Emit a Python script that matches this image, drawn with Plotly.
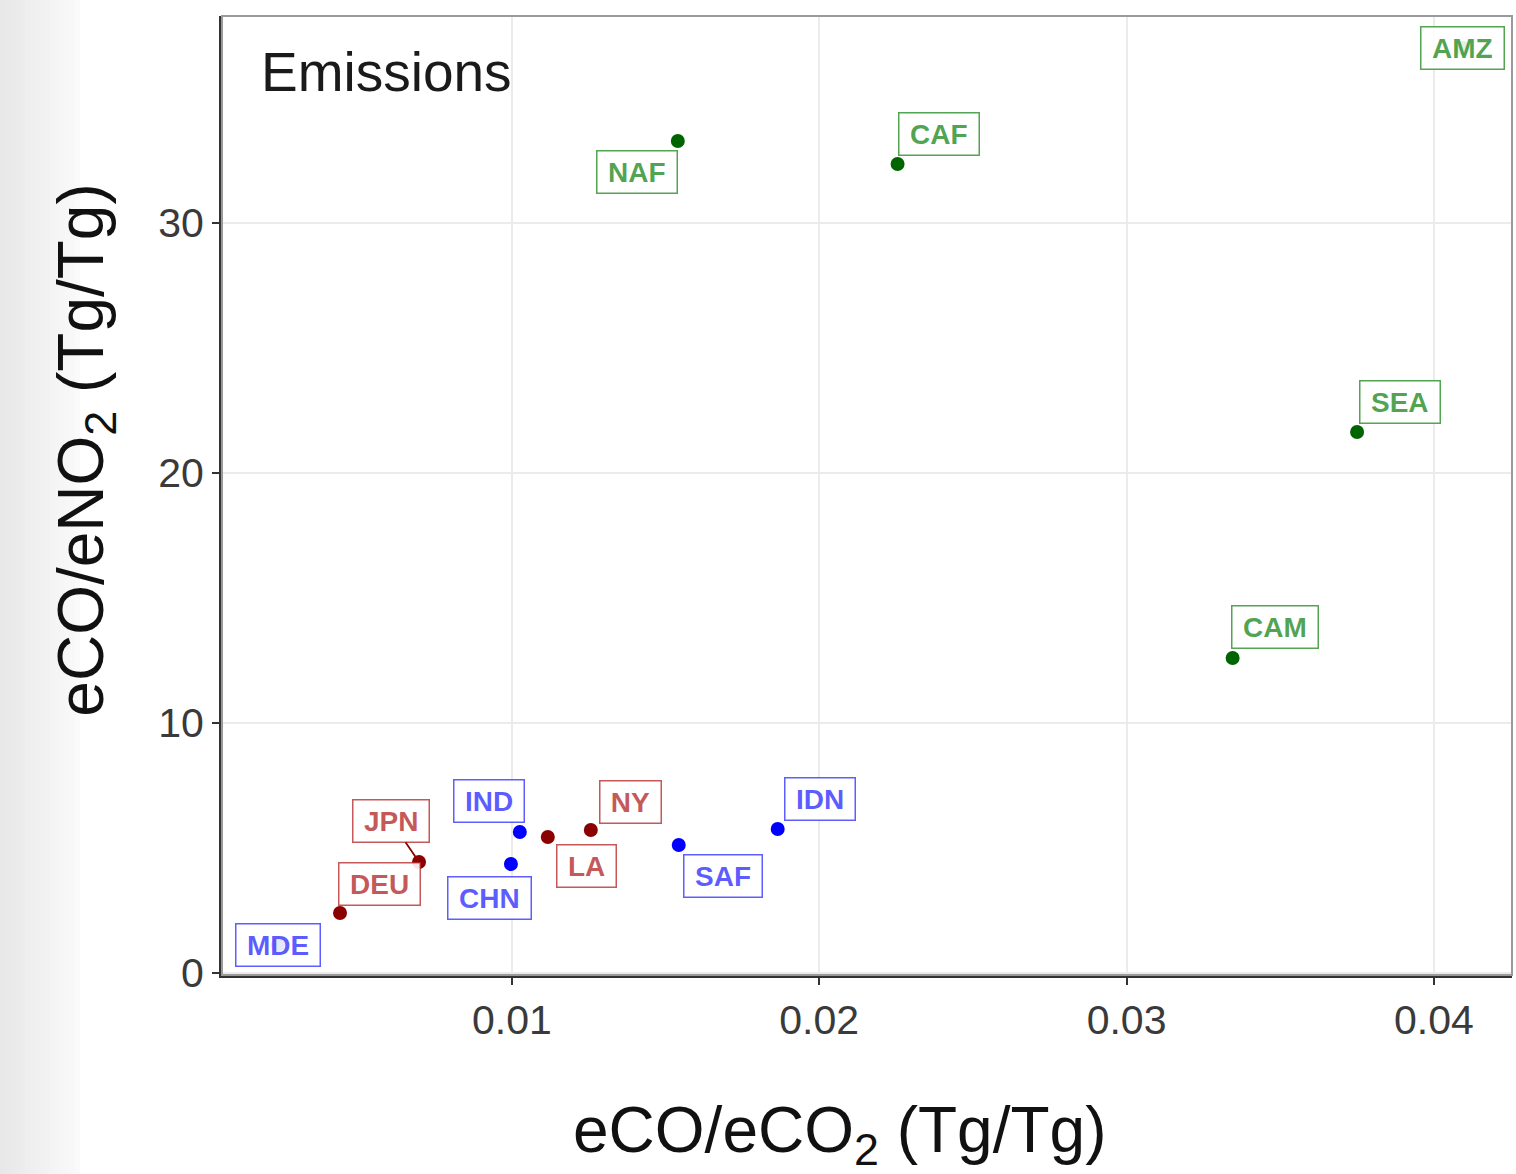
import plotly.graph_objects as go

regions = ["NAF", "CAF", "AMZ", "SEA", "CAM", "IDN", "SAF", "NY", "LA", "IND", "CHN", "JPN", "DEU", "MDE"]
eco_eco2 = [0.0154, 0.02255, 0.04094, 0.0375, 0.03345, 0.01865, 0.01543, 0.01257, 0.01117, 0.01026, 0.00997, 0.00698, 0.00441, 0.00239]
eco_eno2 = [33.28, 32.36, 37.0, 21.64, 12.6, 5.76, 5.12, 5.72, 5.44, 5.64, 4.36, 4.44, 2.4, 1.12]
group = ["fire", "fire", "fire", "fire", "fire", "mixed", "mixed", "urban", "urban", "mixed", "mixed", "urban", "urban", "mixed"]

x_ticks = [0.01, 0.02, 0.03, 0.04]
x_ticklabels = ["0.01", "0.02", "0.03", "0.04"]
y_ticks = [0, 10, 20, 30]
y_ticklabels = ["0", "10", "20", "30"]

point_color = {"fire": "#006400", "urban": "#8B0000", "mixed": "#0000FF"}
label_color = {"fire": "rgba(34,139,34,0.78)", "urban": "rgba(178,34,34,0.75)", "mixed": "rgba(40,40,255,0.75)"}

LABEL_SIZE = 28
char_w = {"A": .722, "C": .722, "D": .722, "E": .667, "F": .611, "I": .278, "J": .556, "L": .611,
          "M": .833, "N": .722, "P": .667, "S": .667, "Y": .667, "Z": .611, "H": .722, "U": .722}

# label placement relative to the point (anchor, pixel shift)
placement = {
    "NAF": ("right", "top", 0, -9),
    "CAF": ("left", "bottom", 0, 8),
    "AMZ": ("center", "middle", 0, 0),
    "SEA": ("left", "bottom", 2, 8),
    "CAM": ("left", "bottom", -2, 9),
    "IDN": ("left", "bottom", 6, 8),
    "SAF": ("left", "top", 4, -9),
    "NY": ("left", "bottom", 8, 6),
    "LA": ("left", "top", 8, -7),
    "IND": ("right", "bottom", 5, 9),
    "CHN": ("center", "top", -21, -12),
    "DEU": ("left", "bottom", -2, 7),
    "MDE": ("center", "middle", 0, 0),
}

fig = go.Figure()
for g in ["fire", "urban", "mixed"]:
    xs = [x for x, gg in zip(eco_eco2, group) if gg == g]
    ys = [y for y, gg in zip(eco_eno2, group) if gg == g]
    fig.add_trace(go.Scatter(x=xs, y=ys, mode="markers",
                             marker=dict(color=point_color[g], size=14, line=dict(width=0)),
                             showlegend=False, hoverinfo="skip"))

FONT = "Liberation Sans, Arial, sans-serif"
annotations = []
for name, x, y, g in zip(regions, eco_eco2, eco_eno2, group):
    box_w = sum(char_w.get(c, 0.65) for c in name) * LABEL_SIZE + 11
    common = dict(x=x, y=y, xref="x", yref="y", text="<b>" + name + "</b>", width=box_w, align="center",
                  font=dict(family=FONT, size=LABEL_SIZE, color=label_color[g]),
                  bgcolor="rgba(255,255,255,0.9)", bordercolor=label_color[g], borderwidth=1.5, borderpad=5)
    if name == "JPN":
        annotations.append(dict(**common, showarrow=True, arrowhead=0, arrowwidth=1.8,
                                arrowcolor=point_color[g], ax=-28, ay=-41, standoff=0))
    else:
        xa, ya, xs_, ys_ = placement[name]
        annotations.append(dict(**common, showarrow=False, xanchor=xa, yanchor=ya,
                                xshift=xs_, yshift=ys_))

annotations.append(dict(text="Emissions", xref="paper", yref="paper", x=0.029, y=0.9416,
                        xanchor="left", yanchor="middle", showarrow=False,
                        font=dict(family=FONT, size=55, color="#1a1a1a")))
annotations.append(dict(text="eCO/eCO<sub>2</sub> (Tg/Tg)", xref="paper", yref="paper",
                        x=0.479, y=-0.166, xanchor="center", yanchor="middle", showarrow=False,
                        font=dict(family=FONT, size=64, color="#111111")))
annotations.append(dict(text="eCO/eNO<sub>2</sub> (Tg/Tg)", xref="paper", yref="paper",
                        x=-0.106, y=0.547, xanchor="center", yanchor="middle", showarrow=False,
                        textangle=-90, font=dict(family=FONT, size=64, color="#111111")))

# faint grey gradient at the far left of the image
def px_x(p):
    return (p - 222) / 1290

shapes = []
n_steps = 16
for i in range(n_steps):
    a = i * 80 / n_steps
    b = (i + 1) * 80 / n_steps
    level = int(232 + (250 - 232) * (i / (n_steps - 1)))
    shapes.append(dict(type="rect", xref="paper", yref="paper", x0=px_x(a), x1=px_x(b), y0=-0.21, y1=1.02,
                       fillcolor=f"rgb({level},{level},{level})", line=dict(width=0), layer="below"))
shapes.append(dict(type="rect", xref="paper", yref="paper", x0=0, y0=0, x1=1, y1=1,
                   line=dict(color="#9a9a9a", width=2), layer="above"))

fig.update_layout(
    width=1516, height=1174,
    margin=dict(l=222, r=4, t=16, b=199),
    paper_bgcolor="white", plot_bgcolor="white",
    annotations=annotations,
    shapes=shapes,
    font=dict(family=FONT),
)
fig.update_xaxes(range=[0.00057, 0.04254], tickvals=x_ticks, ticktext=x_ticklabels,
                 showgrid=True, gridcolor="#EBEBEB", gridwidth=2, zeroline=False,
                 showline=True, linecolor="#333333", linewidth=3,
                 ticks="outside", ticklen=7, tickwidth=2, tickcolor="#333333",
                 tickfont=dict(size=41, color="#3a3a3a"))
fig.update_yaxes(range=[-0.08, 38.28], tickvals=y_ticks, ticktext=y_ticklabels,
                 showgrid=True, gridcolor="#EBEBEB", gridwidth=2, zeroline=False,
                 showline=True, linecolor="#333333", linewidth=3,
                 ticks="outside", ticklen=7, tickwidth=2, tickcolor="#333333",
                 tickfont=dict(size=41, color="#3a3a3a"))

fig.write_html("out.html")
